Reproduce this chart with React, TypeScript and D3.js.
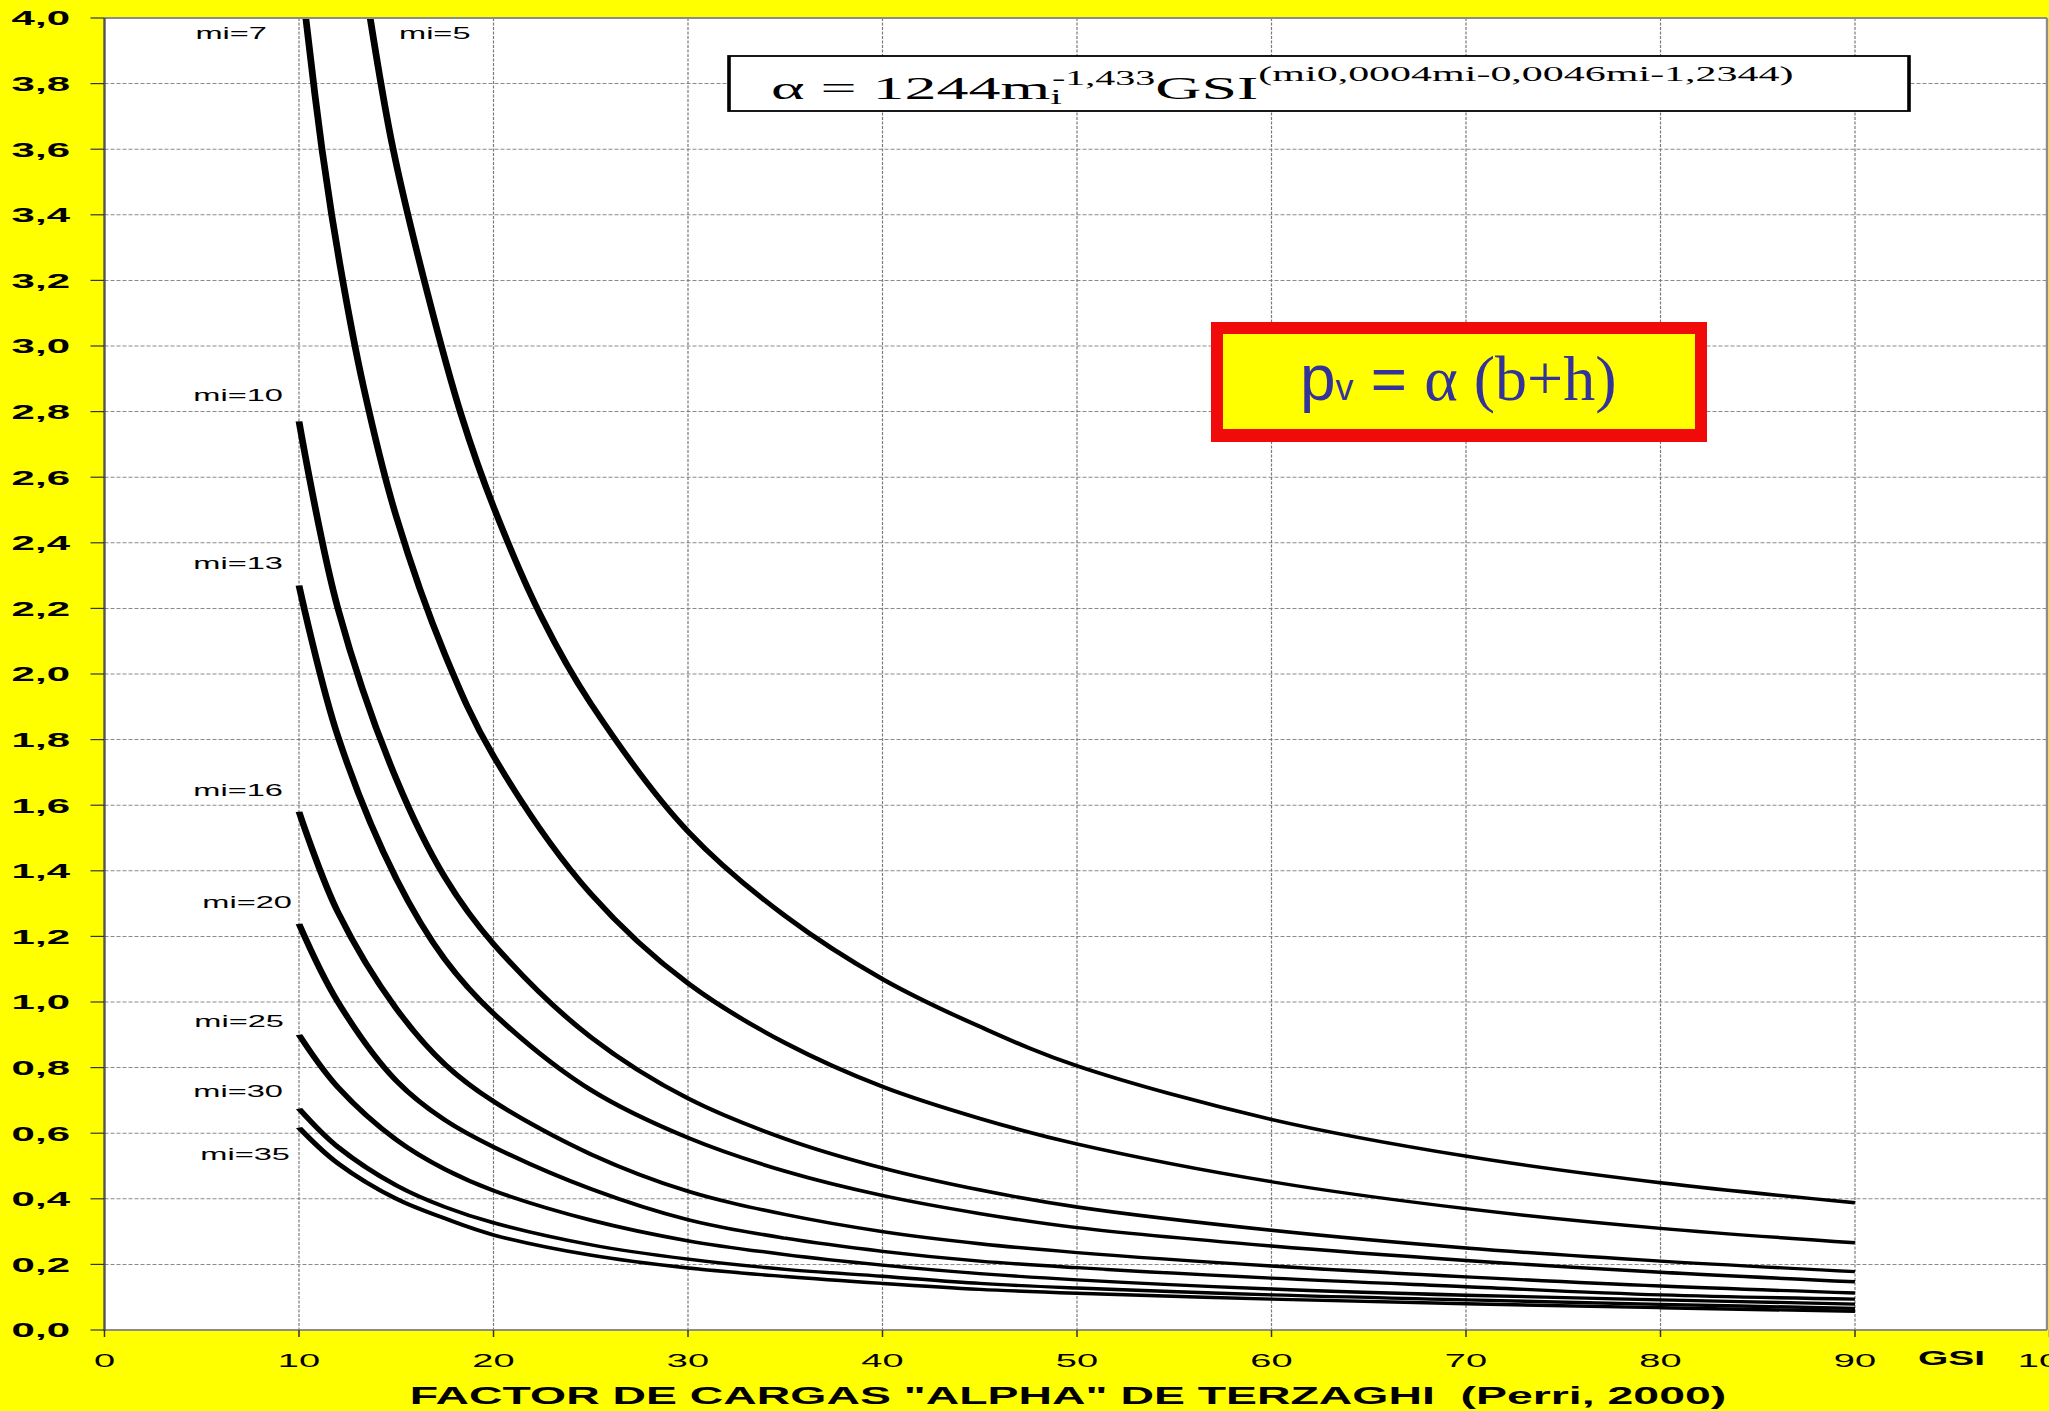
import React from 'react';
import * as d3 from 'd3';

// ---- data ----
const MI_LABELS = ['mi=5', 'mi=7', 'mi=10', 'mi=13', 'mi=16', 'mi=20', 'mi=25', 'mi=30', 'mi=35'];

const GSI_MI5 = [13.66, 14.84, 16.61, 18.34, 20, 22.5, 25, 30, 35, 40, 45, 50, 60, 70, 80, 90];
const ALPHA_MI5 = [4.0, 3.6, 3.16, 2.79, 2.51, 2.17, 1.91, 1.52, 1.262, 1.07, 0.925, 0.805, 0.642, 0.53, 0.449, 0.388];

const GSI_MI7 = [10.35, 11.18, 12.1, 13.3, 15, 17.5, 20, 25, 30, 35, 40, 45, 50, 60, 70, 80, 90];
const ALPHA_MI7 = [4.0, 3.6, 3.25, 2.88, 2.48, 2.06, 1.75, 1.33, 1.057, 0.875, 0.742, 0.645, 0.567, 0.452, 0.37, 0.31, 0.266];

const GSI_STD = [10, 12, 15, 17.5, 20, 25, 30, 35, 40, 45, 50, 60, 70, 80, 90];
const ALPHA_MI10 = [2.77, 2.2, 1.68, 1.38, 1.177, 0.893, 0.706, 0.583, 0.494, 0.427, 0.375, 0.304, 0.25, 0.21, 0.178];
const ALPHA_MI13 = [2.27, 1.81, 1.376, 1.13, 0.965, 0.732, 0.586, 0.484, 0.41, 0.355, 0.312, 0.256, 0.212, 0.176, 0.147];
const ALPHA_MI16 = [1.58, 1.274, 0.98, 0.81, 0.697, 0.536, 0.423, 0.352, 0.3, 0.263, 0.236, 0.195, 0.162, 0.134, 0.113];
const ALPHA_MI20 = [1.238, 1.0, 0.76, 0.64, 0.558, 0.43, 0.336, 0.28, 0.24, 0.21, 0.19, 0.158, 0.132, 0.107, 0.094];
const ALPHA_MI25 = [0.9, 0.74, 0.58, 0.49, 0.425, 0.335, 0.272, 0.23, 0.198, 0.172, 0.153, 0.125, 0.106, 0.092, 0.079];
const ALPHA_MI30 = [0.675, 0.558, 0.441, 0.375, 0.327, 0.26, 0.216, 0.185, 0.164, 0.142, 0.128, 0.107, 0.092, 0.078, 0.066];
const ALPHA_MI35 = [0.617, 0.508, 0.4, 0.34, 0.29, 0.228, 0.189, 0.163, 0.142, 0.124, 0.112, 0.094, 0.08, 0.068, 0.057];

const X_TICKS = [0, 10, 20, 30, 40, 50, 60, 70, 80, 90, 100];
const Y_TICKS = [0, 0.2, 0.4, 0.6, 0.8, 1.0, 1.2, 1.4, 1.6, 1.8, 2.0, 2.2, 2.4, 2.6, 2.8, 3.0, 3.2, 3.4, 3.6, 3.8, 4.0];

const TITLE = 'FACTOR DE CARGAS "ALPHA" DE TERZAGHI  (Perri, 2000)';
const X_NAME = 'GSI';

// ---- layout (virtual coords: whole chart is stretched 2x horizontally) ----
const W = 2049;
const H = 1411;
const SX = 2;
const PLOT = { left: 52.25, right: 1023.5, top: 18, bottom: 1330 };
const LABEL_POS = [
  { x: 199.5, y: 39, anchor: 'start' },
  { x: 133.5, y: 39, anchor: 'end' },
  { x: 141.5, y: 401, anchor: 'end' },
  { x: 141.5, y: 569, anchor: 'end' },
  { x: 141.5, y: 796, anchor: 'end' },
  { x: 146, y: 908, anchor: 'end' },
  { x: 142, y: 1027, anchor: 'end' },
  { x: 141.5, y: 1097, anchor: 'end' },
  { x: 145, y: 1160, anchor: 'end' },
];

const SANS = "'Liberation Sans', Arial, sans-serif";
const SERIF = "'Liberation Serif', 'Times New Roman', serif";

function zip(xs: number[], ys: number[]): [number, number][] {
  return xs.map((x, i) => [x, ys[i]]);
}

export default function App() {
  const x = d3.scaleLinear().domain([0, 100]).range([52.25, 1024.75]);
  const y = d3.scaleLinear().domain([0, 4]).range([PLOT.bottom, PLOT.top]);

  const series: [number, number][][] = [
    zip(GSI_MI5, ALPHA_MI5),
    zip(GSI_MI7, ALPHA_MI7),
    zip(GSI_STD, ALPHA_MI10),
    zip(GSI_STD, ALPHA_MI13),
    zip(GSI_STD, ALPHA_MI16),
    zip(GSI_STD, ALPHA_MI20),
    zip(GSI_STD, ALPHA_MI25),
    zip(GSI_STD, ALPHA_MI30),
    zip(GSI_STD, ALPHA_MI35),
  ];

  const line = d3
    .line<[number, number]>()
    .x((d) => x(d[0]))
    .y((d) => y(d[1]))
    .curve(d3.curveCatmullRom.alpha(0.5));

  const fmt = (v: number) => v.toFixed(1).replace('.', ',');

  return (
    <div style={{ width: W, height: H, overflow: 'hidden' }}>
      <style>{'html,body{margin:0;padding:0;overflow:hidden;}'}</style>
      <svg width={W} height={H} viewBox={`0 0 ${W} ${H}`} style={{ display: 'block' }}>
        <rect x={0} y={0} width={W} height={H} fill="#FFFF00" />
        <defs>
          <clipPath id="plotclip">
            <rect x={PLOT.left} y={PLOT.top} width={PLOT.right - PLOT.left} height={PLOT.bottom - PLOT.top} />
          </clipPath>
        </defs>
        <g transform={`scale(${SX},1)`}>
          <rect
            x={PLOT.left}
            y={PLOT.top}
            width={PLOT.right - PLOT.left}
            height={PLOT.bottom - PLOT.top}
            fill="#FFFFFF"
          />
          {/* horizontal gridlines */}
          {Y_TICKS.filter((t) => t > 0 && t < 4).map((t) => (
            <line
              key={'hg' + t}
              x1={PLOT.left}
              x2={PLOT.right}
              y1={y(t)}
              y2={y(t)}
              stroke="#8a8a8a"
              strokeWidth={1}
              strokeDasharray="2 1"
            />
          ))}
          {/* vertical gridlines */}
          {X_TICKS.filter((t) => t > 0 && t < 100).map((t) => (
            <line
              key={'vg' + t}
              x1={x(t)}
              x2={x(t)}
              y1={PLOT.top}
              y2={PLOT.bottom}
              stroke="#7a7a7a"
              strokeWidth={0.6}
              strokeDasharray="3 1.5"
            />
          ))}
          {/* curves */}
          <g clipPath="url(#plotclip)">
            {series.map((s, i) => (
              <path
                key={'c' + i}
                d={line(s) || ''}
                fill="none"
                stroke="#000"
                strokeWidth={3.4}
                strokeLinejoin="round"
              />
            ))}
          </g>
          {/* plot border */}
          <line x1={PLOT.left} x2={PLOT.right} y1={PLOT.top} y2={PLOT.top} stroke="#8c8c8c" strokeWidth={2} />
          <line x1={PLOT.left} x2={PLOT.right} y1={PLOT.bottom} y2={PLOT.bottom} stroke="#8c8c8c" strokeWidth={2.2} />
          <line x1={PLOT.right} x2={PLOT.right} y1={PLOT.top} y2={PLOT.bottom} stroke="#8c8c8c" strokeWidth={1.2} />
          <line x1={PLOT.left} x2={PLOT.left} y1={PLOT.top} y2={PLOT.bottom + 1} stroke="#555" strokeWidth={1.2} />
          {/* y ticks and labels */}
          {Y_TICKS.map((t) => (
            <g key={'yt' + t}>
              <line x1={PLOT.left - 7} x2={PLOT.left} y1={y(t)} y2={y(t)} stroke="#333" strokeWidth={1.2} />
              <text
                x={35}
                y={y(t) + 7.5}
                textAnchor="end"
                fontFamily={SANS}
                fontWeight="bold"
                fontSize={21}
                fill="#000"
              >
                {fmt(t)}
              </text>
            </g>
          ))}
          {/* x ticks and labels */}
          {X_TICKS.map((t) => (
            <g key={'xt' + t}>
              <line x1={x(t)} x2={x(t)} y1={PLOT.bottom} y2={PLOT.bottom + 7} stroke="#333" strokeWidth={0.75} />
              <text x={x(t)} y={1367} textAnchor="middle" fontFamily={SANS} fontSize={19} fill="#000">
                {String(t)}
              </text>
            </g>
          ))}
          <text x={959} y={1365} fontFamily={SANS} fontWeight="bold" fontSize={19.5} fill="#000">
            {X_NAME}
          </text>
          {/* title */}
          <text
            x={534}
            y={1404}
            textAnchor="middle"
            fontFamily={SANS}
            fontWeight="bold"
            fontSize={23.2}
            fill="#000"
            style={{ whiteSpace: 'pre' }}
          >
            {TITLE}
          </text>
          {/* curve labels */}
          {MI_LABELS.map((lab, i) => (
            <text
              key={'lab' + i}
              x={LABEL_POS[i].x}
              y={LABEL_POS[i].y}
              textAnchor={LABEL_POS[i].anchor as any}
              fontFamily={SANS}
              fontSize={16.3}
              fill="#000"
            >
              {lab}
            </text>
          ))}
          {/* formula box */}
          <rect x={364.5} y={56} width={590} height={55} fill="#fff" stroke="#000" strokeWidth={1.8} />
          <text x={385.5} y={99} fontFamily={SERIF} fontSize={32} fill="#000">
            <tspan>α = 1244m</tspan>
            <tspan fontSize={21} dy={5}>i</tspan>
            <tspan fontSize={20} dx={-5} dy={-19}>-1,433</tspan>
            <tspan fontSize={32} dy={14}>GSI</tspan>
            <tspan fontSize={21} dy={-18}>(mi0,0004mi-0,0046mi-1,2344)</tspan>
          </text>
        </g>
        {/* p_v box (not stretched) */}
        <rect x={1211} y={322} width={496} height={120} fill="#F00A0A" />
        <rect x={1223} y={334} width={472} height={95} fill="#FFFF00" />
        <text x={1300} y={400} fill="#333399">
          <tspan fontFamily={SANS} fontSize={64}>p</tspan>
          <tspan fontFamily={SANS} fontSize={36}>v</tspan>
          <tspan fontFamily={SANS} fontSize={62} style={{ whiteSpace: 'pre' }}>{' = '}</tspan>
          <tspan fontFamily={SERIF} fontSize={64}>α (b+h)</tspan>
        </text>
      </svg>
    </div>
  );
}
